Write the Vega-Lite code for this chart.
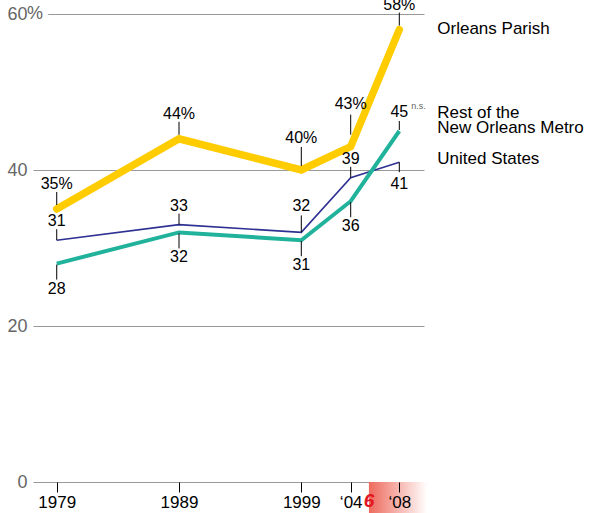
{
  "$schema": "https://vega.github.io/schema/vega-lite/v6.json",
  "width": 391,
  "height": 468,
  "autosize": {"type": "none"},
  "padding": {"left": 33, "top": 14, "right": 168, "bottom": 31},
  "background": "white",
  "config": {"view": {"stroke": null}, "font": "Liberation Sans"},
  "datasets": {
    "rates": [
      {"series": "Orleans Parish", "year": 1979, "value": 35},
      {"series": "Orleans Parish", "year": 1989, "value": 44},
      {"series": "Orleans Parish", "year": 1999, "value": 40},
      {"series": "Orleans Parish", "year": 2004, "value": 43},
      {"series": "Orleans Parish", "year": 2008, "value": 58},
      {"series": "Rest of the New Orleans Metro", "year": 1979, "value": 28},
      {"series": "Rest of the New Orleans Metro", "year": 1989, "value": 32},
      {"series": "Rest of the New Orleans Metro", "year": 1999, "value": 31},
      {"series": "Rest of the New Orleans Metro", "year": 2004, "value": 36},
      {"series": "Rest of the New Orleans Metro", "year": 2008, "value": 45},
      {"series": "United States", "year": 1979, "value": 31},
      {"series": "United States", "year": 1989, "value": 33},
      {"series": "United States", "year": 1999, "value": 32},
      {"series": "United States", "year": 2004, "value": 39},
      {"series": "United States", "year": 2008, "value": 41}
    ],
    "katrina": [{"event": "Hurricane Katrina", "year": 2005.5, "start": 0, "end": -4}],
    "pct": [{"label": "%", "year": 1977.06, "value": 60}]
  },
  "layer": [
    {
      "data": {"name": "katrina"},
      "mark": {"type": "rect", "fill": {"gradient": "linear", "x1": 0, "y1": 0, "x2": 1, "y2": 0, "stops": [{"offset": 0, "color": "#EE6A5D"}, {"offset": 1, "color": "#ffffff"}]}},
      "encoding": {
        "x": {"field": "year", "type": "quantitative", "scale": {"domain": [1977.06, 1999, 2004, 2008, 2010.03], "range": [0, 268.3, 317.7, 366.3, 391], "nice": false, "zero": false}},
        "x2": {"datum": 2010.3},
        "y": {"field": "start", "type": "quantitative", "scale": {"domain": [0, 60], "nice": false, "zero": false}},
        "y2": {"field": "end"}
      }
    },
    {
      "data": {"name": "katrina"},
      "mark": {"type": "text", "text": "6", "fontSize": 19, "fontWeight": "bold", "fontStyle": "italic", "color": "#E3161F", "dy": 25, "baseline": "alphabetic", "align": "center"},
      "encoding": {
        "x": {"field": "year", "type": "quantitative", "scale": {"domain": [1977.06, 1999, 2004, 2008, 2010.03], "range": [0, 268.3, 317.7, 366.3, 391], "nice": false, "zero": false}},
        "y": {"field": "start", "type": "quantitative", "scale": {"domain": [0, 60], "nice": false, "zero": false}}
      }
    },
    {
      "data": {"name": "pct"},
      "mark": {"type": "rect", "fill": "white"},
      "encoding": {
        "x": {"field": "year", "type": "quantitative", "scale": {"domain": [1977.06, 1999, 2004, 2008, 2010.03], "range": [0, 268.3, 317.7, 366.3, 391], "nice": false, "zero": false}},
        "x2": {"datum": 1978.3},
        "y": {"datum": 61, "type": "quantitative", "scale": {"domain": [0, 60], "nice": false, "zero": false}},
        "y2": {"datum": 59}
      }
    },
    {
      "data": {"name": "pct"},
      "mark": {"type": "text", "align": "left", "baseline": "middle", "dx": -6, "fontSize": 18, "color": "#666666"},
      "encoding": {
        "x": {"field": "year", "type": "quantitative", "scale": {"domain": [1977.06, 1999, 2004, 2008, 2010.03], "range": [0, 268.3, 317.7, 366.3, 391], "nice": false, "zero": false}},
        "y": {"field": "value", "type": "quantitative", "scale": {"domain": [0, 60], "nice": false, "zero": false}},
        "text": {"field": "label"}
      }
    },
    {
      "data": {"name": "rates"},
      "encoding": {
        "x": {
          "field": "year", "type": "quantitative",
          "scale": {"domain": [1977.06, 1999, 2004, 2008, 2010.03], "range": [0, 268.3, 317.7, 366.3, 391], "nice": false, "zero": false},
          "axis": {
            "values": [1979, 1989, 1999, 2004, 2008],
            "labelExpr": "datum.value < 2000 ? toString(datum.value) : '‘' + substring(toString(datum.value), 2)",
            "domain": false, "grid": false, "ticks": true, "tickSize": 10, "tickColor": "#000", "tickWidth": 1,
            "labelFontSize": 17, "labelColor": "#000", "labelPadding": 2, "title": null, "zindex": 1,
            "labelFlush": false, "labelOverlap": false
          }
        },
        "y": {
          "field": "value", "type": "quantitative",
          "scale": {"domain": [0, 60], "nice": false, "zero": false},
          "axis": {
            "values": [0, 20, 40, 60], "grid": true, "gridColor": "#999999", "gridWidth": 1,
            "domain": false, "ticks": false, "tickSize": 0, "labelAlign": "right", "labelPadding": 6,
            "labelBaseline": "middle", "labelColor": "#666666", "labelFontSize": 18, "title": null,
            "labelFlush": false, "zindex": 0
          }
        }
      },
      "layer": [
        {
          "transform": [{"filter": "datum.series == 'United States'"}],
          "mark": {"type": "line", "color": "#2E3192", "strokeWidth": 1.6}
        },
        {
          "transform": [{"filter": "datum.series == 'Rest of the New Orleans Metro'"}],
          "mark": {"type": "line", "color": "#21B29B", "strokeWidth": 4}
        },
        {
          "transform": [{"filter": "datum.series == 'Orleans Parish'"}],
          "mark": {"type": "line", "color": "#FFCC00", "strokeWidth": 7.5, "strokeCap": "round"}
        },
        {
          "transform": [
            {"filter": "datum.series == 'Orleans Parish' && (datum.year == 1979 || datum.year == 1989 || datum.year == 2008)"},
            {"calculate": "datum.value + '%'", "as": "label"}
          ],
          "layer": [
            {"mark": {"type": "rule", "color": "#000", "strokeWidth": 1, "yOffset": -17, "y2Offset": -4}, "encoding": {"y2": {"field": "value"}}},
            {"mark": {"type": "text", "dy": -20, "fontSize": 16, "baseline": "alphabetic", "align": "center", "color": "#000"}, "encoding": {"text": {"field": "label"}}}
          ]
        },
        {
          "transform": [
            {"filter": "datum.series == 'Orleans Parish' && datum.year == 1999"},
            {"calculate": "datum.value + '%'", "as": "label"}
          ],
          "layer": [
            {"mark": {"type": "rule", "color": "#000", "strokeWidth": 1, "yOffset": -23, "y2Offset": -4}, "encoding": {"y2": {"field": "value"}}},
            {"mark": {"type": "text", "dy": -27, "fontSize": 16, "baseline": "alphabetic", "align": "center", "color": "#000"}, "encoding": {"text": {"field": "label"}}}
          ]
        },
        {
          "transform": [
            {"filter": "datum.series == 'Orleans Parish' && datum.year == 2004"},
            {"calculate": "datum.value + '%'", "as": "label"}
          ],
          "layer": [
            {"mark": {"type": "rule", "color": "#000", "strokeWidth": 1, "yOffset": -32, "y2Offset": -12}, "encoding": {"y2": {"field": "value"}}},
            {"mark": {"type": "text", "dy": -38, "fontSize": 16, "baseline": "alphabetic", "align": "center", "color": "#000"}, "encoding": {"text": {"field": "label"}}}
          ]
        },
        {
          "transform": [{"filter": "datum.series == 'United States' && (datum.year == 1979 || datum.year == 1989 || datum.year == 2004)"}],
          "layer": [
            {"mark": {"type": "rule", "color": "#000", "strokeWidth": 1, "yOffset": -11, "y2Offset": 0}, "encoding": {"y2": {"field": "value"}}},
            {"mark": {"type": "text", "dy": -14, "fontSize": 16, "baseline": "alphabetic", "align": "center", "color": "#000"}, "encoding": {"text": {"field": "value", "type": "quantitative"}}}
          ]
        },
        {
          "transform": [{"filter": "datum.series == 'United States' && datum.year == 1999"}],
          "layer": [
            {"mark": {"type": "rule", "color": "#000", "strokeWidth": 1, "yOffset": -17, "y2Offset": 0}, "encoding": {"y2": {"field": "value"}}},
            {"mark": {"type": "text", "dy": -21, "fontSize": 16, "baseline": "alphabetic", "align": "center", "color": "#000"}, "encoding": {"text": {"field": "value", "type": "quantitative"}}}
          ]
        },
        {
          "transform": [{"filter": "datum.series == 'United States' && datum.year == 2008"}],
          "layer": [
            {"mark": {"type": "rule", "color": "#000", "strokeWidth": 1, "yOffset": 0, "y2Offset": 10}, "encoding": {"y2": {"field": "value"}}},
            {"mark": {"type": "text", "dy": 27, "fontSize": 16, "baseline": "alphabetic", "align": "center", "color": "#000"}, "encoding": {"text": {"field": "value", "type": "quantitative"}}},
            {"mark": {"type": "text", "dx": 38, "dy": 2, "fontSize": 17, "baseline": "alphabetic", "align": "left", "color": "#000"}, "encoding": {"text": {"field": "series"}}}
          ]
        },
        {
          "transform": [{"filter": "datum.series == 'Rest of the New Orleans Metro' && datum.year < 2008"}],
          "layer": [
            {"mark": {"type": "rule", "color": "#000", "strokeWidth": 1, "yOffset": 1, "y2Offset": 16}, "encoding": {"y2": {"field": "value"}}},
            {"mark": {"type": "text", "dy": 30, "fontSize": 16, "baseline": "alphabetic", "align": "center", "color": "#000"}, "encoding": {"text": {"field": "value", "type": "quantitative"}}}
          ]
        },
        {
          "transform": [{"filter": "datum.series == 'Rest of the New Orleans Metro' && datum.year == 2008"}],
          "layer": [
            {"mark": {"type": "rule", "color": "#000", "strokeWidth": 1, "yOffset": -10, "y2Offset": -1}, "encoding": {"y2": {"field": "value"}}},
            {"mark": {"type": "text", "dy": -14, "fontSize": 16, "baseline": "alphabetic", "align": "center", "color": "#000"}, "encoding": {"text": {"field": "value", "type": "quantitative"}}},
            {"mark": {"type": "text", "text": "n.s.", "dx": 12, "dy": -22, "fontSize": 9, "baseline": "alphabetic", "align": "left", "color": "#666666"}},
            {"mark": {"type": "text", "text": ["Rest of the", "New Orleans Metro"], "lineHeight": 15, "dx": 38, "dy": -13, "fontSize": 17, "baseline": "alphabetic", "align": "left", "color": "#000"}}
          ]
        },
        {
          "transform": [{"filter": "datum.series == 'Orleans Parish' && datum.year == 2008"}],
          "mark": {"type": "text", "dx": 38, "dy": 4, "fontSize": 17, "baseline": "alphabetic", "align": "left", "color": "#000"},
          "encoding": {"text": {"field": "series"}}
        }
      ]
    }
  ]
}
